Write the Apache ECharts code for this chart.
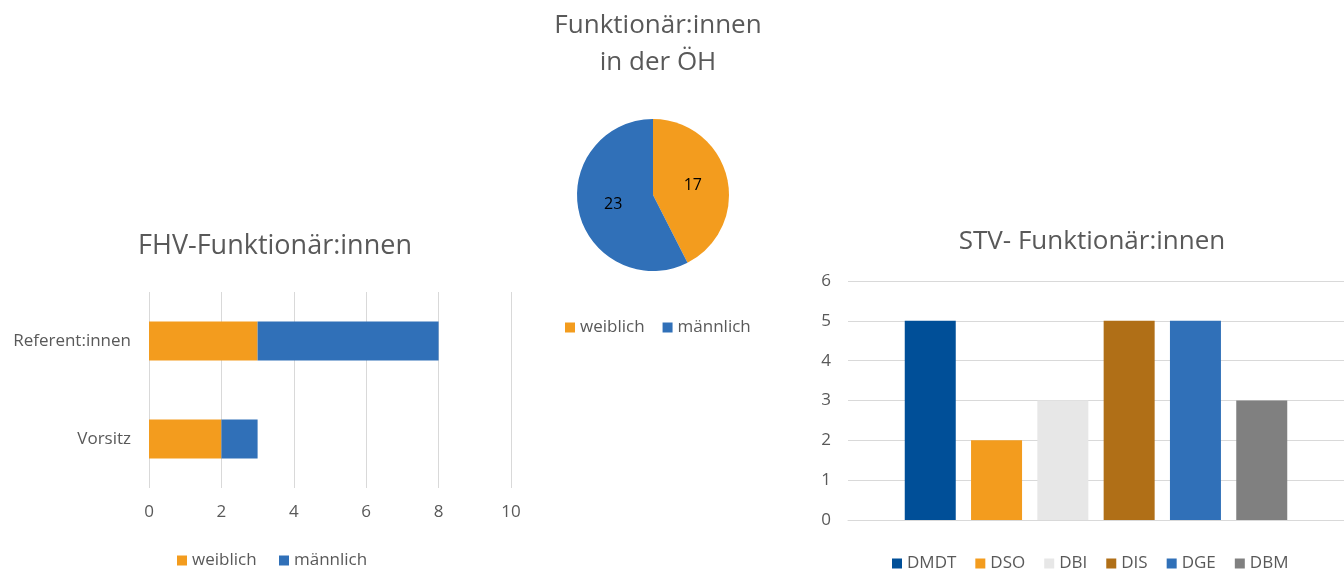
<!DOCTYPE html>
<html>
<head>
<meta charset="utf-8">
<script src="https://cdn.jsdelivr.net/npm/echarts@6/dist/echarts.min.js"></script>
<style>
  html, body { margin: 0; padding: 0; background: #fff; }
  #chart { width: 1344px; height: 569px; }
</style>
</head>
<body>
<div id="chart"></div>
<script>
// data
const genderNames = ['weiblich', 'männlich']
const oehValues = [17, 23]
const fhvCategories = ['Referent:innen', 'Vorsitz']
const fhvWeiblich = [3, 2]
const fhvMaennlich = [5, 1]
const stvNames = ['DMDT', 'DSO', 'DBI', 'DIS', 'DGE', 'DBM']
const stvValues = [5, 2, 3, 5, 5, 3]

const orange = '#F39C1E'
const blue = '#3070B8'
const stvColors = ['#004F98', '#F39C1E', '#E7E7E7', '#B06F17', '#3070B8', '#808080']
const font = 'Open Sans'
const grey = '#595959'
const gridGrey = '#D9D9D9'

const chart = echarts.init(document.getElementById('chart'), null, { renderer: 'canvas' })

const titleStyle = { color: grey, fontFamily: font, fontSize: 26, fontWeight: 'normal', lineHeight: 37 }
const legendText = { color: grey, fontFamily: font, fontSize: 17 }

const stvSeries = stvNames.map((name, i) => ({
  type: 'bar',
  name,
  xAxisIndex: 1,
  yAxisIndex: 1,
  data: [stvValues[i]],
  itemStyle: { color: stvColors[i] },
  barWidth: 51,
  barGap: '30%',
  silent: true
}))

chart.setOption({
  animation: false,
  textStyle: { fontFamily: font },
  title: [
    { text: 'Funktionär:innen\nin der ÖH', left: 653, textAlign: 'center', top: 2, textStyle: titleStyle },
    { text: 'FHV-Funktionär:innen', left: 270, textAlign: 'center', top: 223, textStyle: { ...titleStyle, fontSize: 27 } },
    { text: 'STV- Funktionär:innen', left: 1087, textAlign: 'center', top: 218, textStyle: titleStyle }
  ],
  legend: [
    {
      data: genderNames.map((n, i) => ({ name: n, itemStyle: { color: i ? blue : orange } })),
      left: 560, top: 314, itemWidth: 10, itemHeight: 10, itemGap: 18,
      icon: 'rect', textStyle: legendText, selectedMode: false
    },
    {
      data: ['weiblich ', 'männlich '],
      left: 172, top: 547, itemWidth: 10, itemHeight: 10, itemGap: 18,
      icon: 'rect', textStyle: legendText, selectedMode: false
    },
    {
      data: stvNames,
      left: 887, top: 550, itemWidth: 10, itemHeight: 10, itemGap: 19,
      icon: 'rect', textStyle: legendText, selectedMode: false
    }
  ],
  grid: [
    { left: 149, top: 292, width: 362, height: 196 },
    { left: 848, top: 281, right: 0, height: 239 }
  ],
  xAxis: [
    {
      gridIndex: 0, type: 'value', min: 0, max: 10, interval: 2,
      axisLine: { show: false }, axisTick: { show: false },
      axisLabel: { color: grey, fontSize: 17, margin: 16 },
      splitLine: { lineStyle: { color: gridGrey, width: 1 } }
    },
    {
      gridIndex: 1, type: 'category', data: [''],
      axisLine: { lineStyle: { color: gridGrey } }, axisTick: { show: false },
      axisLabel: { show: false }
    }
  ],
  yAxis: [
    {
      gridIndex: 0, type: 'category', data: fhvCategories, inverse: true,
      axisLine: { show: false }, axisTick: { show: false },
      axisLabel: { color: grey, fontSize: 17, margin: 18 }
    },
    {
      gridIndex: 1, type: 'value', min: 0, max: 6, interval: 1,
      axisLine: { show: false }, axisTick: { show: false },
      axisLabel: { color: grey, fontSize: 17, margin: 17 },
      splitLine: { lineStyle: { color: gridGrey, width: 1 } }
    }
  ],
  series: [
    {
      type: 'pie',
      center: [653, 195],
      radius: 76,
      startAngle: 90,
      clockwise: true,
      silent: true,
      data: genderNames.map((n, i) => ({ name: n, value: oehValues[i], itemStyle: { color: i ? blue : orange } })),
      label: { position: 'inside', formatter: '{c}', color: '#000', fontSize: 16, fontFamily: font },
      labelLine: { show: false },
      itemStyle: { borderColor: '#fff', borderWidth: 0 }
    },
    {
      type: 'bar', name: 'weiblich ', stack: 'fhv', xAxisIndex: 0, yAxisIndex: 0,
      data: fhvWeiblich, itemStyle: { color: orange }, barWidth: 39, silent: true
    },
    {
      type: 'bar', name: 'männlich ', stack: 'fhv', xAxisIndex: 0, yAxisIndex: 0,
      data: fhvMaennlich, itemStyle: { color: blue }, barWidth: 39, silent: true
    },
    ...stvSeries
  ]
})
</script>
</body>
</html>
